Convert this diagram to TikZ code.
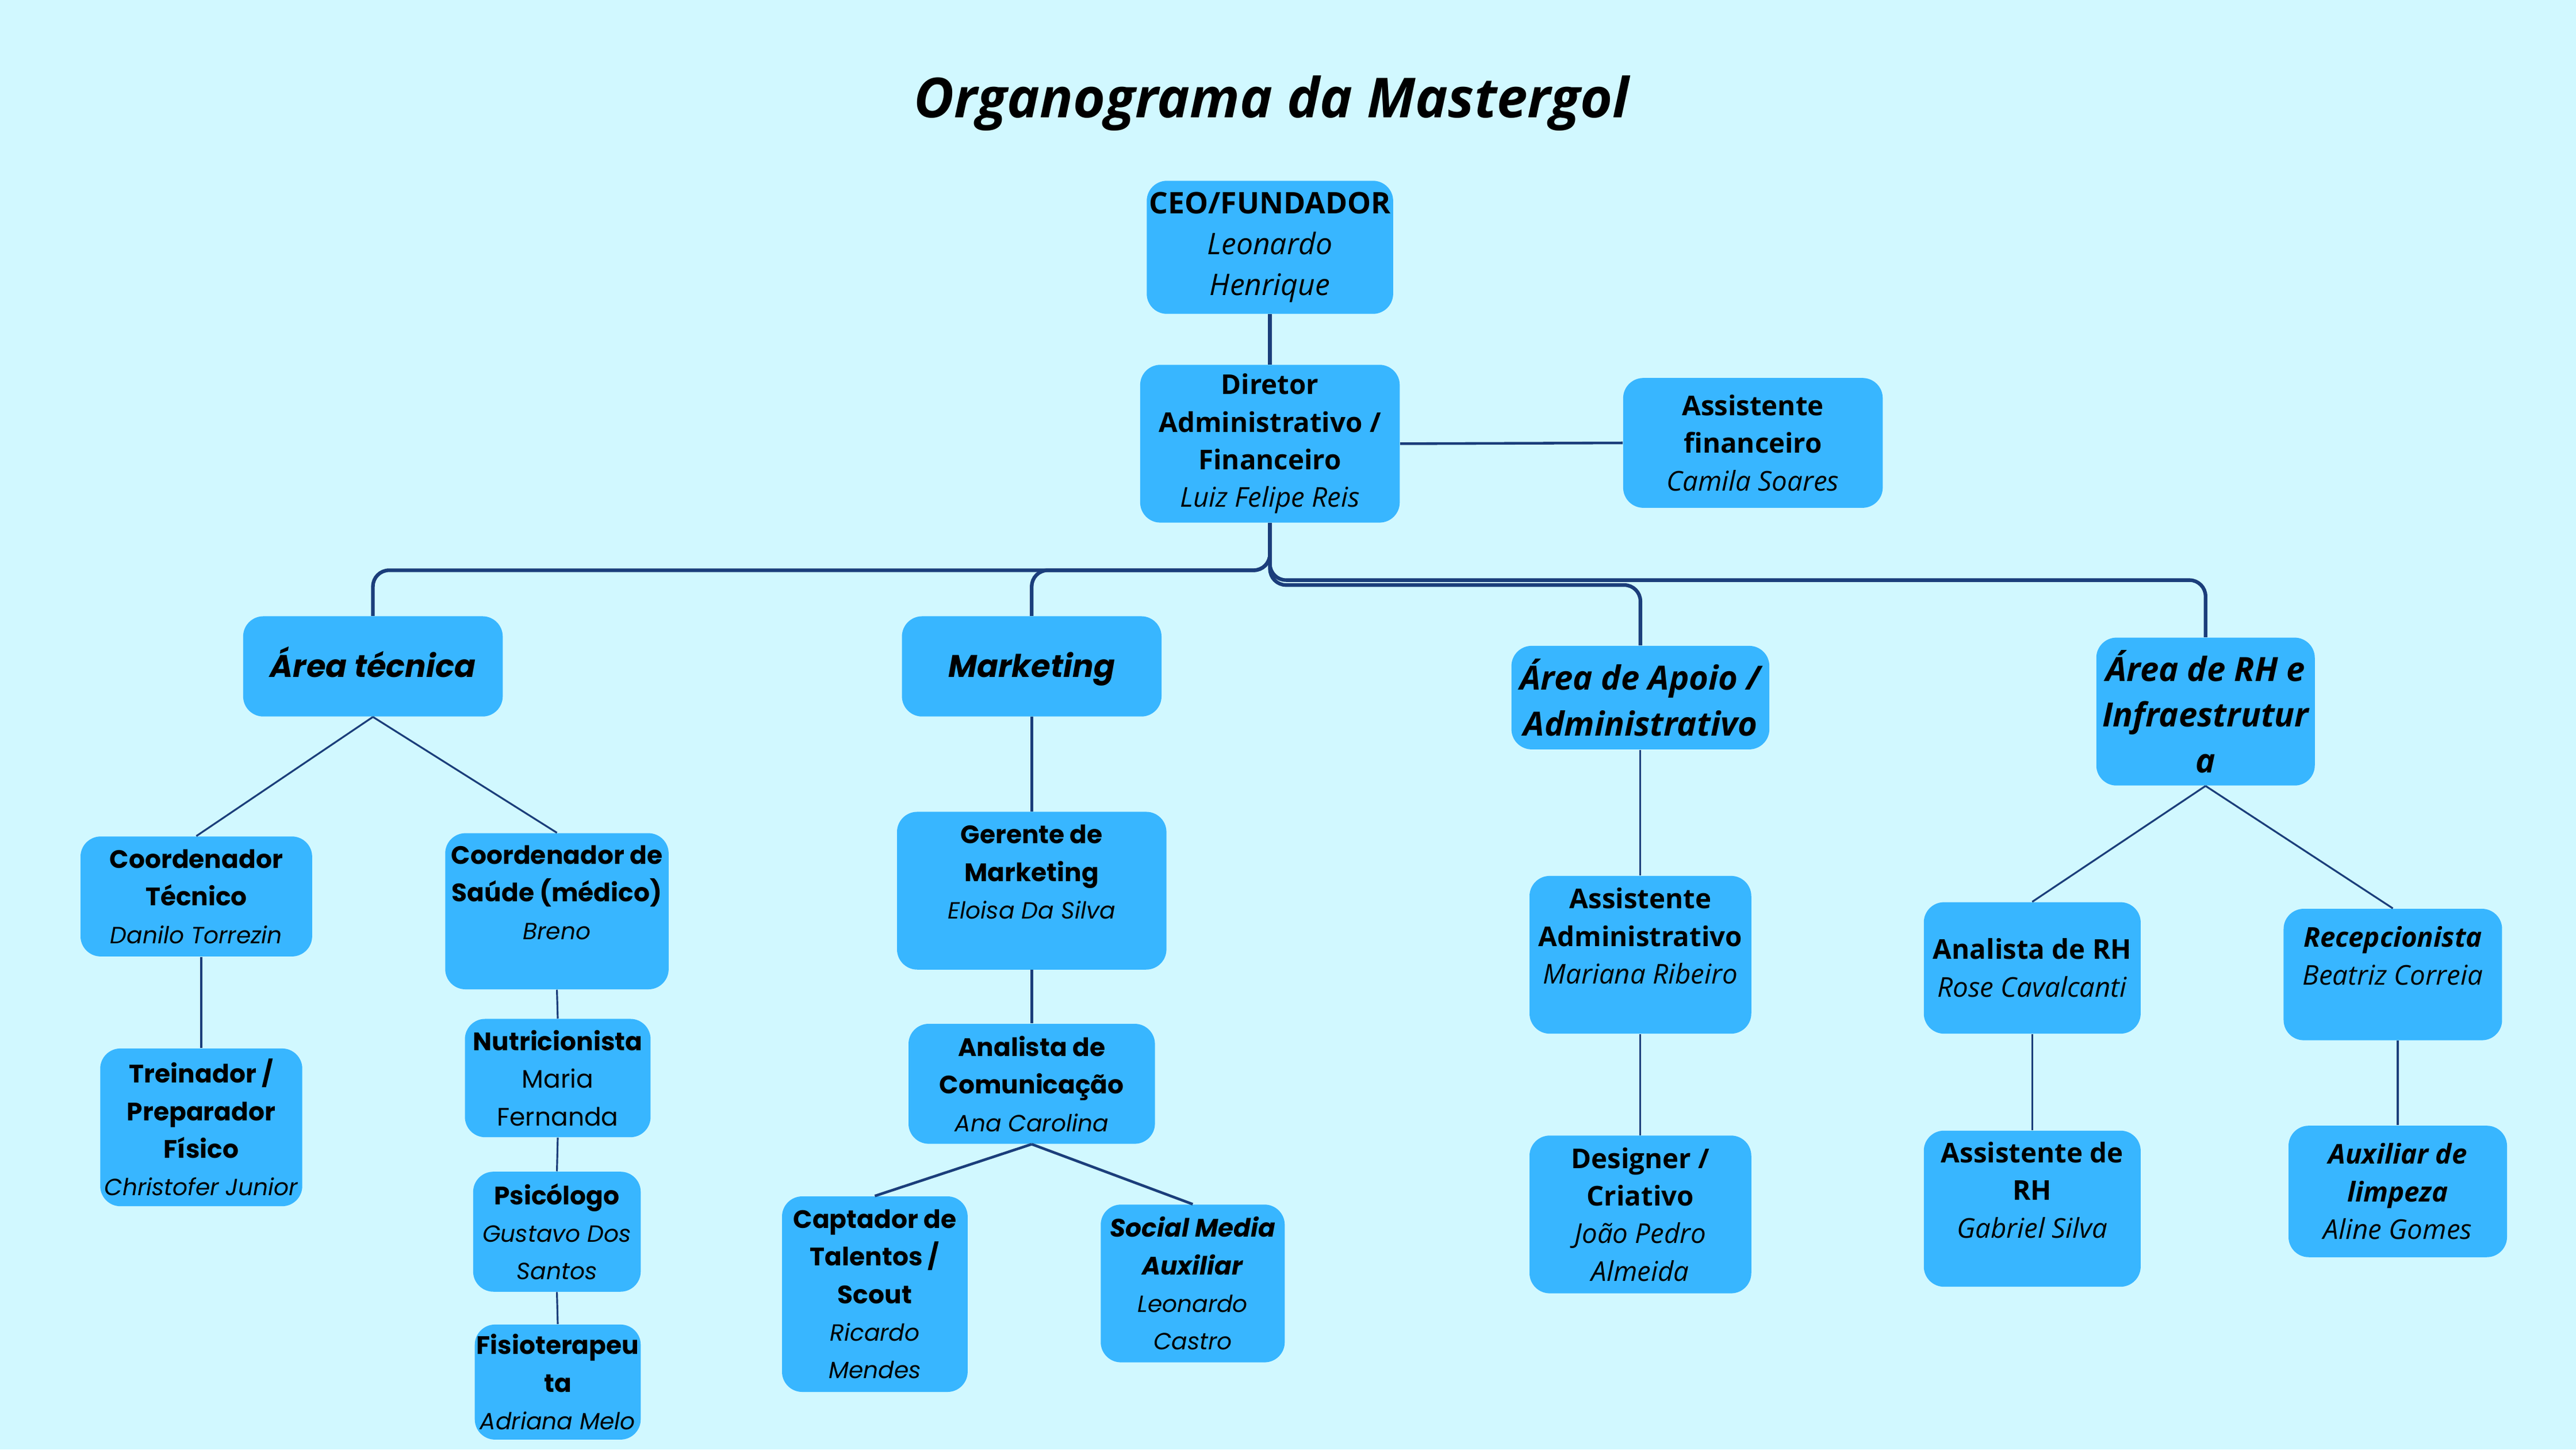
\documentclass[tikz,border=0pt]{standalone}
\usepackage{fontspec}
\setmainfont{Open Sans}
\newfontfamily\mont{Poppins}
\definecolor{bgcyan}{HTML}{D1F8FF}
\definecolor{boxblue}{HTML}{38B6FF}
\definecolor{linenavy}{HTML}{1B3E7B}
\newcommand{\pxu}{0.2857mm}
\newcommand{\mname}[1]{{\itshape\fontsize{11.6}{18.6}\selectfont #1}}

\begin{document}
\begin{tikzpicture}[x=0.2857mm,y=-0.2857mm,
  card/.style={fill=boxblue, rounded corners=10pt, align=center, inner sep=0pt,
    font=\fontsize{13.5}{18.6}\selectfont},
  mcard/.style={card, font=\mont\fontsize{12.5}{18.6}\selectfont},
  area/.style={card, font=\bfseries\itshape\fontsize{16.5}{22.7}\selectfont},
  marea/.style={card, text height=11pt, text depth=0pt, font=\mont\bfseries\itshape\fontsize{15.5}{20}\selectfont},
  trunk/.style={draw=linenavy, line width=1.8pt, rounded corners=8pt},
  link/.style={draw=linenavy, line width=1.3pt},
  twig/.style={draw=linenavy, line width=0.9pt}]

\fill[bgcyan] (0,0) rectangle (1568,882);

\node[font=\bfseries\itshape\fontsize{27.3}{31}\selectfont] (title) at (774,63) {Organograma da Mastergol};

\node[card, minimum width=150*\pxu, minimum height=81*\pxu, font=\fontsize{14.7}{20.3}\selectfont] (ceo) at (773,150.5)
  {\textbf{CEO/FUNDADOR}\\\textit{Leonardo}\\\textit{Henrique}};
\node[card, minimum width=158*\pxu, minimum height=96*\pxu] (dir) at (773,270)
  {\textbf{Diretor}\\\textbf{Administrativo /}\\\textbf{Financeiro}\\\textit{Luiz Felipe Reis}};
\node[card, minimum width=158*\pxu, minimum height=79*\pxu] (asf) at (1067,269.5)
  {\textbf{Assistente}\\\textbf{financeiro}\\\textit{Camila Soares}};

\node[marea, minimum width=158*\pxu, minimum height=61*\pxu] (tec) at (227,405.5) {Área técnica};
\node[marea, minimum width=158*\pxu, minimum height=61*\pxu] (mkt) at (628,405.5) {Marketing};
\node[area, minimum width=157*\pxu, minimum height=63*\pxu] (apo) at (998.5,424.5) {Área de Apoio /\\Administrativo};
\node[area, minimum width=133*\pxu, minimum height=90*\pxu] (rh) at (1342.5,433) {Área de RH e\\Infraestrutur\\a};

% area tecnica
\node[mcard, minimum width=141*\pxu, minimum height=73*\pxu] (ctec) at (119.5,545.5)
  {\textbf{Coordenador}\\\textbf{Técnico}\\\mname{Danilo Torrezin}};
\node[mcard, minimum width=136*\pxu, minimum height=95*\pxu] (csau) at (339,554.5)
  {\textbf{Coordenador de}\\\textbf{Saúde (médico)}\\\mname{Breno}\\\mbox{}};
\node[mcard, minimum width=123*\pxu, minimum height=96*\pxu] (trei) at (122.5,686)
  {\textbf{Treinador /}\\\textbf{Preparador}\\\textbf{Físico}\\\mname{Christofer Junior}};
\node[mcard, minimum width=113*\pxu, minimum height=72*\pxu] (nut) at (339.5,656)
  {\textbf{Nutricionista}\\Maria\\Fernanda};
\node[mcard, minimum width=102*\pxu, minimum height=73*\pxu] (psi) at (339,749.5)
  {\textbf{Psicólogo}\\\mname{Gustavo Dos}\\\mname{Santos}};
\node[mcard, minimum width=101*\pxu, minimum height=70*\pxu] (fis) at (339.5,841)
  {\textbf{Fisioterapeu}\\\textbf{ta}\\\mname{Adriana Melo}};

% marketing
\node[mcard, minimum width=164*\pxu, minimum height=96*\pxu] (ger) at (628,542)
  {\textbf{Gerente de}\\\textbf{Marketing}\\\mname{Eloisa Da Silva}\\\mbox{}};
\node[mcard, minimum width=150*\pxu, minimum height=73*\pxu] (ana) at (628,659.5)
  {\textbf{Analista de}\\\textbf{Comunicação}\\\mname{Ana Carolina}};
\node[mcard, minimum width=113*\pxu, minimum height=119*\pxu] (cap) at (532.5,787.5)
  {\textbf{Captador de}\\\textbf{Talentos /}\\\textbf{Scout}\\\mname{Ricardo}\\\mname{Mendes}};
\node[mcard, minimum width=112*\pxu, minimum height=96*\pxu] (soc) at (726,781)
  {\textbf{\textit{Social Media}}\\\textbf{\textit{Auxiliar}}\\\mname{Leonardo}\\\mname{Castro}};

% apoio
\node[card, minimum width=135*\pxu, minimum height=96*\pxu] (aad) at (998.5,581)
  {\textbf{Assistente}\\\textbf{Administrativo}\\\textit{Mariana Ribeiro}\\\mbox{}};
\node[card, minimum width=135*\pxu, minimum height=96*\pxu] (des) at (998.5,739)
  {\textbf{Designer /}\\\textbf{Criativo}\\\textit{João Pedro}\\\textit{Almeida}};

% rh
\node[card, minimum width=132*\pxu, minimum height=80*\pxu] (arh) at (1237,589)
  {\textbf{Analista de RH}\\\textit{Rose Cavalcanti}};
\node[card, minimum width=133*\pxu, minimum height=80*\pxu] (rec) at (1456.5,593)
  {\textbf{\textit{Recepcionista}}\\\textit{Beatriz Correia}\\\mbox{}};
\node[card, minimum width=132*\pxu, minimum height=95*\pxu] (ash) at (1237,735.5)
  {\textbf{Assistente de}\\\textbf{RH}\\\textit{Gabriel Silva}\\\mbox{}};
\node[card, minimum width=133*\pxu, minimum height=80*\pxu] (aux) at (1459.5,725)
  {\textbf{\textit{Auxiliar de}}\\\textbf{\textit{limpeza}}\\\textit{Aline Gomes}};

\coordinate (bt) at (227,347);
\coordinate (bm) at (628,347);
\coordinate (ba) at (998.5,356);
\coordinate (br) at (1342.5,353);

\draw[link, line width=1.8pt] (ceo.south) -- (dir.north);
\draw[link] (dir.east) -- (asf.west);
\draw[trunk] (dir.south) |- (bt) -- (tec.north);
\draw[trunk] (dir.south) |- (bm) -- (mkt.north);
\draw[trunk] (dir.south) |- (ba) -- (apo.north);
\draw[trunk] (dir.south) |- (br) -- (rh.north);

\draw[twig] (tec.south) -- (ctec.north);
\draw[twig] (tec.south) -- (csau.north);
\draw[twig] (trei.north |- ctec.south) -- (trei.north);
\draw[twig] (csau.south) -- (nut.north);
\draw[twig] (nut.south) -- (psi.north);
\draw[twig] (psi.south) -- (fis.north);

\draw[link] (mkt.south) -- (ger.north);
\draw[link] (ger.south) -- (ana.north);
\draw[link] (ana.south) -- (cap.north);
\draw[link] (ana.south) -- (soc.north);

\draw[twig] (apo.south) -- (aad.north);
\draw[twig] (aad.south) -- (des.north);

\draw[twig] (rh.south) -- (arh.north);
\draw[twig] (rh.south) -- (rec.north);
\draw[twig] (arh.south) -- (ash.north);
\draw[twig] (aux.north |- rec.south) -- (aux.north);

\end{tikzpicture}
\end{document}
